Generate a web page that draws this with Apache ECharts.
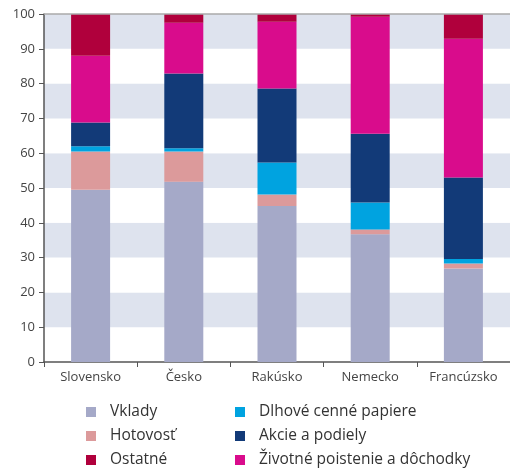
<!DOCTYPE html>
<html>
<head>
<meta charset="utf-8">
<script src="https://cdn.jsdelivr.net/npm/echarts@6/dist/echarts.min.js"></script>
<style>
  html, body { margin: 0; padding: 0; background: #fff; }
  #chart { width: 510px; height: 476px; }
</style>
</head>
<body>
<div id="chart"></div>
<script>
var categories = ['Slovensko', 'Česko', 'Rakúsko', 'Nemecko', 'Francúzsko'];
var vklady = [49.5, 51.8, 44.8, 36.7, 26.9];
var hotovost = [11.0, 8.7, 3.3, 1.4, 1.4];
var dlhove = [1.5, 0.9, 9.2, 7.7, 1.3];
var akcie = [6.8, 21.5, 21.3, 19.8, 23.4];
var zivotne = [19.2, 14.6, 19.2, 33.6, 39.9];
var ostatne = [12.0, 2.5, 2.2, 0.8, 7.1];

var chart = echarts.init(document.getElementById('chart'));

function bar(name, data, color) {
  return {
    name: name,
    type: 'bar',
    stack: 'total',
    barWidth: 39,
    itemStyle: { color: color },
    data: data
  };
}

var series = [
  bar('Vklady', vklady, '#a5a9c8'),
  bar('Hotovosť', hotovost, '#dc9a9b'),
  bar('Dlhové cenné papiere', dlhove, '#00a3e0'),
  bar('Akcie a podiely', akcie, '#123a78'),
  bar('Životné poistenie a dôchodky', zivotne, '#d90c8c'),
  bar('Ostatné', ostatne, '#b0003c')
];
// top border line at 100
series[0].markLine = {
  silent: true,
  symbol: 'none',
  label: { show: false },
  lineStyle: { color: '#aaaaaa', type: 'solid', width: 1.5 },
  data: [{ yAxis: 100 }]
};

var legendText = { fontFamily: 'Open Sans', fontSize: 15.5, color: '#333', padding: [0, 0, 0, 9] };

chart.setOption({
  animation: false,
  textStyle: { fontFamily: 'Open Sans' },
  grid: { left: 44, right: 0, top: 14, bottom: 114 },
  legend: [
    {
      orient: 'vertical', left: 84, top: 402, height: 90, padding: 2,
      itemWidth: 10, itemHeight: 10, itemGap: 8, icon: 'rect',
      textStyle: legendText,
      data: ['Vklady', 'Hotovosť', 'Ostatné']
    },
    {
      orient: 'vertical', left: 233, top: 402, height: 90, padding: 2,
      itemWidth: 10, itemHeight: 10, itemGap: 8, icon: 'rect',
      textStyle: legendText,
      data: ['Dlhové cenné papiere', 'Akcie a podiely', 'Životné poistenie a dôchodky']
    }
  ],
  xAxis: {
    type: 'category',
    data: categories,
    axisLine: { lineStyle: { color: '#555', width: 1.5 } },
    axisTick: { show: true, length: 5, lineStyle: { color: '#555' } },
    axisLabel: { color: '#444', fontSize: 13, margin: 9 }
  },
  yAxis: {
    type: 'value',
    min: 0,
    max: 100,
    interval: 10,
    axisLine: { show: true, lineStyle: { color: '#555', width: 1.5 } },
    axisTick: { show: true, length: 5, lineStyle: { color: '#555' } },
    axisLabel: { color: '#444', fontSize: 13, margin: 9 },
    splitLine: { show: false },
    splitArea: { show: true, areaStyle: { color: ['#ffffff', '#dee3ee'] } }
  },
  series: series
});
</script>
</body>
</html>
